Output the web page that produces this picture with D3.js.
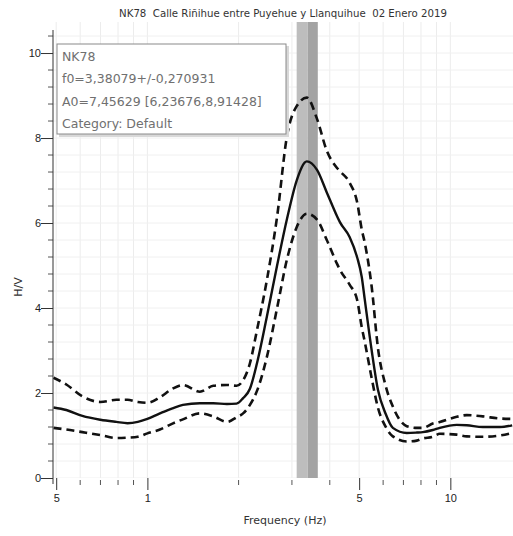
<!DOCTYPE html>
<html><head><meta charset="utf-8">
<script src="https://cdn.jsdelivr.net/npm/d3@7"></script>
<style>body{margin:0;background:#fff;} svg{display:block;font-family:"DejaVu Sans",sans-serif;} .pre{white-space:pre;}</style>
</head><body><div id="chart"></div>
<script>
const titleText = "NK78  Calle Riñihue entre Puyehue y Llanquihue  02 Enero 2019";
const legendLines = ["NK78", "f0=3,38079+/-0,270931", "A0=7,45629 [6,23676,8,91428]", "Category: Default"];
const f0 = 3.38079, f0Std = 0.270931;

const freq = [0.49,0.54,0.61,0.70,0.79,0.86,0.93,1.0,1.10,1.21,1.31,1.49,1.65,1.83,1.97,2.07,2.18,2.30,2.48,2.68,2.89,3.11,3.36,3.63,3.91,4.22,4.32,4.65,4.92,5.10,5.22,5.50,5.77,6.10,6.46,7.18,7.75,8.11,8.75,9.23,10.5,11.33,12.8,14.57,16.0];
const hvMean = [1.66,1.60,1.46,1.37,1.32,1.29,1.32,1.39,1.52,1.64,1.72,1.76,1.76,1.74,1.75,1.88,2.1,2.7,3.8,5.0,6.1,7.0,7.45,7.25,6.72,6.17,6.02,5.67,5.2,4.73,4.19,3.0,2.07,1.53,1.18,1.06,1.07,1.08,1.13,1.18,1.25,1.24,1.2,1.2,1.24];
const hvUpper = [2.36,2.2,1.92,1.79,1.84,1.84,1.79,1.77,1.9,2.1,2.19,2.03,2.17,2.19,2.17,2.3,2.7,3.48,4.66,6.15,8.05,8.75,8.95,8.45,7.7,7.3,7.22,6.95,6.5,5.85,5.53,4.5,3.05,2.2,1.68,1.22,1.18,1.18,1.28,1.32,1.44,1.48,1.45,1.40,1.39];
const hvLower = [1.18,1.14,1.08,1.01,0.94,0.95,0.97,1.05,1.14,1.28,1.38,1.52,1.45,1.32,1.43,1.52,1.72,2.05,2.85,4.0,5.15,5.9,6.22,6.08,5.6,5.05,4.9,4.55,4.2,3.55,3.2,2.35,1.65,1.22,0.98,0.86,0.88,0.93,0.97,1.04,1.02,0.98,0.97,1.0,1.06];

const xMajor = [0.5, 1, 5, 10];
const xMajorLabels = ["5", "1", "5", "10"];
const xMinor = [0.6,0.7,0.8,0.9,2,3,4,6,7,8,9];
const yMajor = [0,2,4,6,8,10];
const yMinor = [0.4,0.8,1.2,1.6,2.4,2.8,3.2,3.6,4.4,4.8,5.2,5.6,6.4,6.8,7.2,7.6,8.4,8.8,9.2,9.6,10.4];

const W = 513, H = 536;
const pL = 53, pR = 513, pT = 22, pB = 478;
const x = d3.scaleLog().domain([0.488, 16.1]).range([pL, pR]);
const y = d3.scaleLinear().domain([0, 10.73]).range([pB, pT]);

const svg = d3.select("#chart").append("svg").attr("width", W).attr("height", H);
const defs = svg.append("defs");
defs.append("clipPath").attr("id","clip").append("rect").attr("x",pL).attr("y",pT).attr("width",pR-pL).attr("height",pB-pT);

// grid
const grid = svg.append("g").attr("clip-path","url(#clip)");
grid.selectAll(".gx").data(xMinor.concat(xMajor)).enter().append("line")
  .attr("x1",d=>x(d)).attr("x2",d=>x(d)).attr("y1",pT).attr("y2",pB)
  .attr("stroke","#ececec").attr("stroke-width",1);
grid.selectAll(".gy").data(yMinor.concat(yMajor)).enter().append("line")
  .attr("y1",d=>y(d)).attr("y2",d=>y(d)).attr("x1",pL).attr("x2",pR)
  .attr("stroke","#f0f0f0").attr("stroke-width",1);

// f0 band
const g = svg.append("g").attr("clip-path","url(#clip)");
g.append("rect").attr("x",x(f0-f0Std)).attr("width",x(f0)-x(f0-f0Std))
  .attr("y",pT).attr("height",pB-pT).attr("fill","#bdbdbd");
g.append("rect").attr("x",x(f0)).attr("width",x(f0+f0Std)-x(f0))
  .attr("y",pT).attr("height",pB-pT).attr("fill","#a3a3a3");

const line = vals => d3.line().x((d,i)=>x(freq[i])).y(d=>y(d)).curve(d3.curveMonotoneX)(vals);
g.append("path").attr("d",line(hvUpper)).attr("fill","none").attr("stroke","#111").attr("stroke-width",2.6).attr("stroke-dasharray","8,5");
g.append("path").attr("d",line(hvLower)).attr("fill","none").attr("stroke","#111").attr("stroke-width",2.6).attr("stroke-dasharray","8,5");
g.append("path").attr("d",line(hvMean)).attr("fill","none").attr("stroke","#111").attr("stroke-width",2.4);

// axes
const yAxisG = svg.append("g").attr("transform",`translate(${pL},0)`);
yAxisG.call(d3.axisLeft(y).tickValues(yMajor).tickSize(12).tickFormat(d3.format("d")))
  .call(a=>a.select(".domain").remove());
yAxisG.selectAll(".tick line").attr("stroke","#333");
yAxisG.selectAll(".tick text").attr("fill","#222").attr("font-size",11).attr("x",-12);
yAxisG.selectAll(".ymin").data(yMinor).enter().append("line").attr("class","ymin")
  .attr("x1",-5).attr("x2",0).attr("y1",d=>y(d)).attr("y2",d=>y(d)).attr("stroke","#555");
yAxisG.append("line").attr("x1",0).attr("x2",0).attr("y1",pT+8).attr("y2",pB+6).attr("stroke","#333");

const xAxisG = svg.append("g").attr("transform",`translate(0,${pB})`);
xAxisG.call(d3.axisBottom(x).tickValues(xMajor).tickSize(12).tickFormat((d,i)=>xMajorLabels[i]))
  .call(a=>a.select(".domain").remove());
xAxisG.selectAll(".tick line").attr("stroke","#333");
xAxisG.selectAll(".tick text").attr("fill","#222").attr("font-size",11).attr("y",16);
xAxisG.selectAll(".xmin").data(xMinor).enter().append("line").attr("class","xmin")
  .attr("x1",d=>x(d)).attr("x2",d=>x(d)).attr("y1",2).attr("y2",7).attr("stroke","#555");

// labels
svg.append("text").attr("class","pre").attr("x",283).attr("y",17).attr("text-anchor","middle").attr("font-size",10.2).attr("fill","#333").text(titleText);
svg.append("text").attr("x",285).attr("y",524).attr("text-anchor","middle").attr("font-size",11).attr("fill","#333").text("Frequency (Hz)");
svg.append("text").attr("transform","translate(22,287) rotate(-90)").attr("text-anchor","middle").attr("font-size",11).attr("fill","#333").text("H/V");

// legend
const lg = svg.append("g");
lg.append("rect").attr("x",59).attr("y",46).attr("width",230).attr("height",91).attr("fill","#d8d8d8");
lg.append("rect").attr("x",57).attr("y",44).attr("width",229).attr("height",90).attr("fill","#fff").attr("stroke","#8a8a8a").attr("stroke-width",1);
lg.selectAll("text").data(legendLines).enter().append("text")
  .attr("x",62).attr("y",(d,i)=>61+i*22.3).attr("font-size",12.5).attr("fill","#707070").text(d=>d);
</script></body></html>
